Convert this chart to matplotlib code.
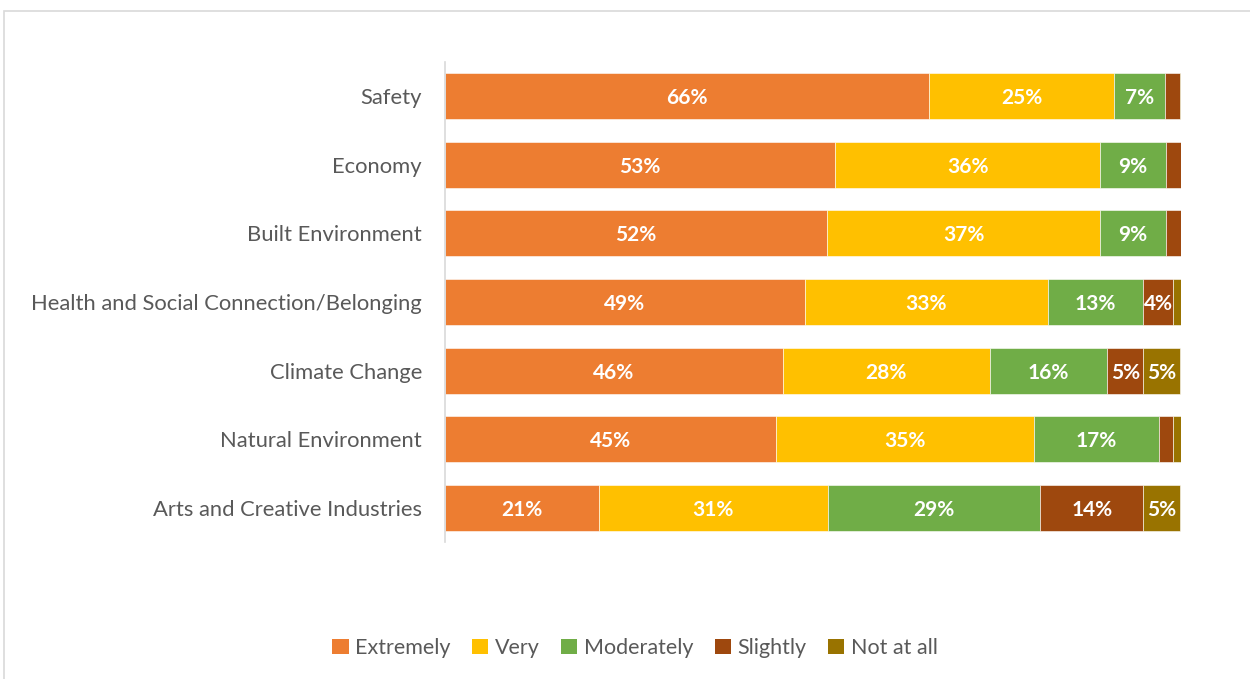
import matplotlib
matplotlib.use("Agg")
import matplotlib.pyplot as plt
from matplotlib.patches import Rectangle, Patch
import numpy as np

categories = [
    "Safety",
    "Economy",
    "Built Environment",
    "Health and Social Connection/Belonging",
    "Climate Change",
    "Natural Environment",
    "Arts and Creative Industries",
]
series_names = ["Extremely", "Very", "Moderately", "Slightly", "Not at all"]
extremely = [65.8, 53.0, 51.9, 48.9, 45.9, 45.0, 20.9]
very = [25.1, 36.0, 37.1, 33.0, 28.1, 35.0, 31.1]
moderately = [6.9, 9.0, 9.0, 13.0, 16.0, 17.0, 28.9]
slightly = [2.0, 2.0, 2.0, 4.0, 4.9, 1.9, 14.0]
not_at_all = [0.2, 0.0, 0.0, 1.1, 5.0, 1.1, 5.0]
colors = ["#ED7D31", "#FFC000", "#70AD47", "#9E480E", "#997300"]

series = [extremely, very, moderately, slightly, not_at_all]
font = "Lato"
text_grey = "#595959"

fig = plt.figure(figsize=(12.5, 6.79), dpi=100)
fig.patches.append(Rectangle((4 / 1250, -0.05), 1.1, 1 - 11 / 679 + 0.05,
                             transform=fig.transFigure, fill=False,
                             edgecolor="#D9D9D9", linewidth=1.2))

ax = fig.add_axes([445 / 1250, 1 - 542 / 679, 736 / 1250, 480 / 679])
y = np.arange(len(categories))
left = np.zeros(len(categories))
for vals, name, col in zip(series, series_names, colors):
    vals = np.array(vals)
    bars = ax.barh(y, vals, left=left, height=0.67, color=col,
                   edgecolor="white", linewidth=0.4, label=name)
    for b, v in zip(bars, vals):
        if v >= 3.5:
            ax.text(b.get_x() + b.get_width() / 2, b.get_y() + b.get_height() / 2 + 0.03,
                    f"{v:.0f}%", ha="center", va="center", color="white",
                    fontsize=15, fontweight="bold", family=font)
    left += vals

ax.set_xlim(0, 100)
ax.set_ylim(len(categories) - 0.5, -0.5)
ax.set_yticks(y)
ax.set_yticklabels(categories, fontsize=15.8, color=text_grey, family=font)
ax.tick_params(axis="y", length=0, pad=16.5)
ax.set_xticks([])
for s in ["top", "right", "bottom"]:
    ax.spines[s].set_visible(False)
ax.spines["left"].set_color("#D9D9D9")
ax.spines["left"].set_linewidth(1.2)

handles = [Patch(facecolor=c, edgecolor="none") for c in colors]
fig.legend(handles, series_names, loc="center", bbox_to_anchor=(0.508, 1 - 648 / 679),
           ncol=5, frameon=False, handlelength=0.75, handleheight=0.75,
           handletextpad=0.3, columnspacing=1.0,
           prop={"family": font, "size": 15.5}, labelcolor=text_grey)

fig.savefig("out.png", dpi=100)
